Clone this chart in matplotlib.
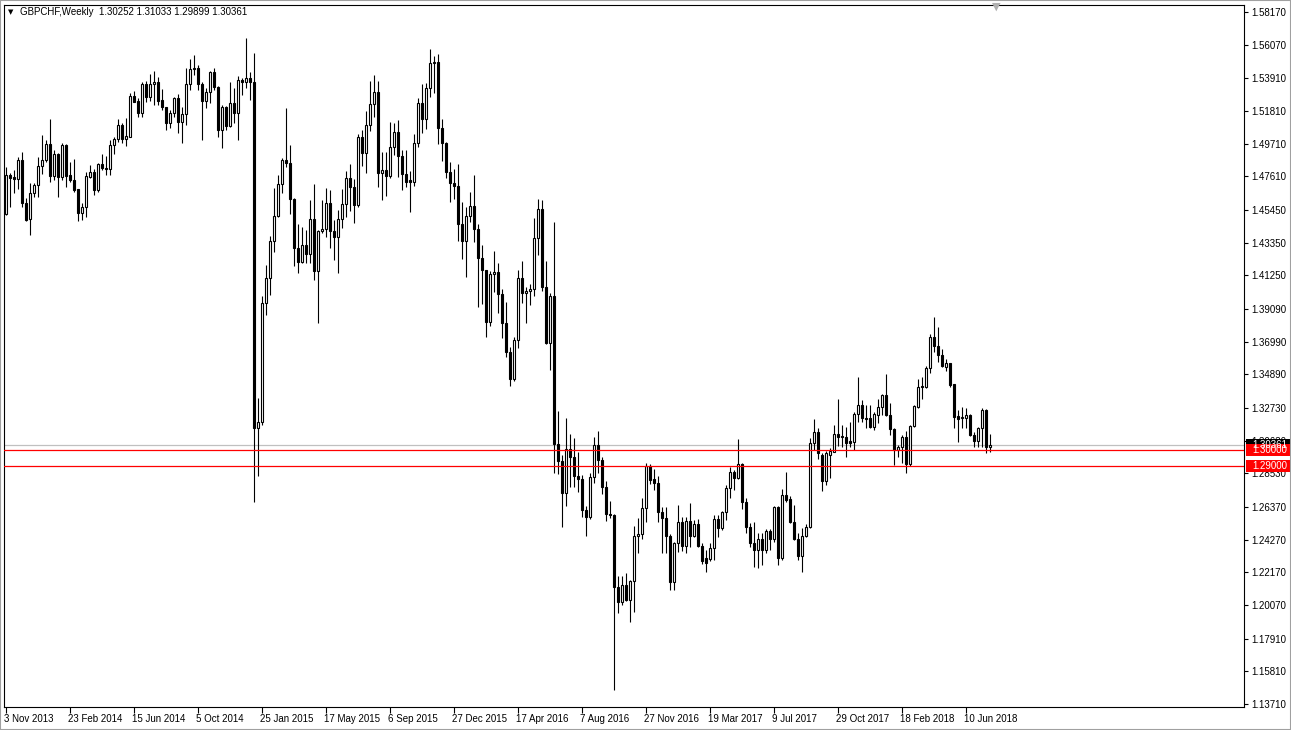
import matplotlib
matplotlib.use("Agg")
import matplotlib.pyplot as plt
import matplotlib.transforms as mtransforms
from matplotlib.patches import Rectangle
import numpy as np

# ---------------- data (weekly GBPCHF candles) ----------------
opens = [
    1.4520,1.4770,1.4759,1.4742,1.4866,1.4588,1.4485,1.4652,1.4706,1.4828,
    1.4866,1.4967,1.4766,1.4905,1.4755,1.4963,1.4770,1.4738,1.4678,1.4524,
    1.4563,1.4760,1.4789,1.4674,1.4841,1.4817,1.4806,1.4963,1.5003,1.5091,
    1.4999,1.5016,1.5277,1.5247,1.5170,1.5354,1.5273,1.5352,1.5365,1.5250,
    1.5205,1.5106,1.5166,1.5263,1.5113,1.5160,1.5353,1.5449,1.5455,1.5353,
    1.5248,1.5301,1.5430,1.5333,1.5059,1.5205,1.5085,1.5231,1.5170,1.5380,
    1.5365,1.5391,1.5365,1.3144,1.3180,1.3946,1.4107,1.4347,1.4507,1.4713,
    1.4867,1.4845,1.4614,1.4300,1.4210,1.4317,1.4263,1.4486,1.4150,1.4407,
    1.4422,1.4589,1.4407,1.4370,1.4486,1.4582,1.4749,1.4691,1.4578,1.5012,
    1.4914,1.5091,1.5224,1.5301,1.4781,1.4802,1.4766,1.4952,1.5044,1.4894,
    1.4774,1.4738,1.4727,1.4974,1.5231,1.5130,1.5327,1.5487,1.5494,1.5074,
    1.4974,1.4791,1.4716,1.4701,1.4453,1.4348,1.4507,1.4571,1.4421,1.4235,
    1.4160,1.3828,1.4134,1.4145,1.4003,1.3817,1.3631,1.3458,1.3710,1.4106,
    1.4010,1.4025,1.4038,1.4363,1.4549,1.4053,1.3693,1.3995,1.3043,1.2929,
    1.2726,1.3010,1.2957,1.2839,1.2816,1.2615,1.2572,1.2829,1.3032,1.2940,
    1.2762,1.2593,1.2584,1.2125,1.2029,1.2133,1.2041,1.2159,1.2453,1.2461,
    1.2629,1.2903,1.2815,1.2794,1.2607,1.2568,1.2453,1.2157,1.2403,1.2538,
    1.2388,1.2547,1.2453,1.2525,1.2388,1.2310,1.2300,1.2371,1.2557,1.2500,
    1.2607,1.2757,1.2859,1.2821,1.2913,1.2667,1.2506,1.2408,1.2361,1.2431,
    1.2361,1.2483,1.2429,1.2635,1.2307,1.2714,1.2688,1.2542,1.2429,1.2324,
    1.2450,1.2506,1.3046,1.3121,1.2971,1.2806,1.2971,1.2992,1.3106,1.3095,
    1.3089,1.3061,1.3057,1.3234,1.3292,1.3211,1.3206,1.3153,1.3228,1.3281,
    1.3356,1.3228,1.3136,1.3003,1.3020,1.3084,1.2913,1.3159,1.3281,1.3414,
    1.3406,1.3528,1.3727,1.3673,1.3613,1.3538,1.3560,1.3427,1.3221,1.3206,
    1.3211,1.3228,1.3099,1.3063,1.3146,1.3260,1.30252,
]
highs = [
    1.4824,1.4781,1.4802,1.4888,1.4920,1.4620,1.4717,1.4721,1.4888,1.5027,
    1.4995,1.5130,1.4931,1.4910,1.4973,1.4967,1.4856,1.4871,1.4680,1.4588,
    1.4792,1.4834,1.4807,1.4849,1.4905,1.4892,1.4995,1.5012,1.5127,1.5106,
    1.5136,1.5294,1.5309,1.5262,1.5369,1.5376,1.5420,1.5438,1.5400,1.5320,
    1.5209,1.5187,1.5273,1.5290,1.5209,1.5455,1.5513,1.5541,1.5477,1.5369,
    1.5327,1.5438,1.5459,1.5342,1.5220,1.5213,1.5369,1.5327,1.5406,1.5391,
    1.5648,1.5430,1.5552,1.3336,1.3993,1.4193,1.4375,1.4689,1.4770,1.4877,
    1.5203,1.4963,1.4620,1.4456,1.4434,1.4417,1.4610,1.4713,1.4417,1.4610,
    1.4685,1.4674,1.4481,1.4546,1.4681,1.4796,1.4841,1.4743,1.5032,1.5059,
    1.5181,1.5374,1.5412,1.5374,1.4915,1.4915,1.5108,1.5102,1.5123,1.4931,
    1.4931,1.4796,1.5034,1.5263,1.5355,1.5363,1.5579,1.5534,1.5547,1.5130,
    1.4980,1.4851,1.4806,1.4838,1.4594,1.4567,1.4659,1.4770,1.4455,1.4320,
    1.4162,1.4153,1.4282,1.4207,1.4036,1.3952,1.3667,1.3732,1.4160,1.4217,
    1.4053,1.4068,1.4491,1.4613,1.4609,1.4217,1.4010,1.4466,1.3256,1.2972,
    1.3207,1.3106,1.3078,1.2993,1.2844,1.2640,1.2854,1.3085,1.3128,1.2961,
    1.2801,1.2672,1.2590,1.2195,1.2191,1.2212,1.2169,1.2515,1.2564,1.2693,
    1.2918,1.2914,1.2879,1.2837,1.2635,1.2635,1.2461,1.2414,1.2650,1.2575,
    1.2575,1.2660,1.2553,1.2560,1.2403,1.2360,1.2403,1.2585,1.2585,1.2613,
    1.2778,1.2896,1.2874,1.3071,1.2917,1.2692,1.2536,1.2538,1.2468,1.2468,
    1.2493,1.2493,1.2643,1.2643,1.2750,1.2859,1.2707,1.2650,1.2468,1.2500,
    1.2528,1.3078,1.3200,1.3142,1.2982,1.2999,1.3014,1.3164,1.3331,1.3164,
    1.3153,1.3185,1.3249,1.3470,1.3324,1.3292,1.3292,1.3249,1.3328,1.3361,
    1.3491,1.3307,1.3142,1.3035,1.3099,1.3127,1.3166,1.3292,1.3459,1.3470,
    1.3543,1.3748,1.3855,1.3791,1.3650,1.3585,1.3564,1.3427,1.3260,1.3277,
    1.3271,1.3232,1.3121,1.3149,1.3271,1.3264,1.31033,
]
lows = [
    1.4513,1.4567,1.4652,1.4678,1.4567,1.4477,1.4385,1.4631,1.4631,1.4777,
    1.4856,1.4723,1.4738,1.4627,1.4738,1.4695,1.4727,1.4663,1.4471,1.4481,
    1.4503,1.4749,1.4642,1.4663,1.4802,1.4770,1.4770,1.4905,1.4984,1.4973,
    1.4956,1.5012,1.5236,1.5140,1.5140,1.5241,1.5245,1.5220,1.5220,1.5187,
    1.5059,1.5070,1.5145,1.5042,1.4974,1.5091,1.5316,1.5412,1.5316,1.4995,
    1.5198,1.5231,1.5316,1.5012,1.4942,1.5059,1.5081,1.5102,1.4995,1.5284,
    1.5327,1.5252,1.2669,1.2834,1.3165,1.3872,1.4000,1.4272,1.4503,1.4657,
    1.4824,1.4518,1.4186,1.4139,1.4203,1.4203,1.4203,1.4096,1.3818,1.4396,
    1.4370,1.4300,1.4225,1.4143,1.4426,1.4503,1.4541,1.4464,1.4567,1.4828,
    1.4785,1.5055,1.5145,1.4695,1.4606,1.4638,1.4753,1.4898,1.4759,1.4674,
    1.4695,1.4535,1.4702,1.4952,1.5042,1.5066,1.5273,1.5295,1.4967,1.4862,
    1.4753,1.4599,1.4614,1.4348,1.4228,1.4117,1.4470,1.4342,1.3924,1.3942,
    1.3727,1.3802,1.4017,1.3886,1.3721,1.3599,1.3411,1.3443,1.3657,1.3946,
    1.3817,1.3935,1.3993,1.4256,1.4027,1.3684,1.3518,1.2854,1.2850,1.2505,
    1.2644,1.2768,1.2763,1.2736,1.2572,1.2448,1.2559,1.2790,1.2854,1.2721,
    1.2549,1.2565,1.1461,1.1954,1.2009,1.2030,1.1896,1.1960,1.2339,1.2430,
    1.2543,1.2785,1.2747,1.2543,1.2339,1.2339,1.2103,1.2103,1.2345,1.2356,
    1.2339,1.2382,1.2446,1.2382,1.2270,1.2217,1.2292,1.2296,1.2442,1.2489,
    1.2553,1.2692,1.2746,1.2817,1.2622,1.2468,1.2382,1.2249,1.2243,1.2264,
    1.2339,1.2361,1.2414,1.2264,1.2296,1.2671,1.2532,1.2425,1.2296,1.2217,
    1.2446,1.2500,1.3003,1.2943,1.2742,1.2778,1.2821,1.2992,1.3031,1.3024,
    1.2956,1.3024,1.3003,1.3185,1.3185,1.3142,1.3142,1.3131,1.3174,1.3228,
    1.3221,1.3099,1.2907,1.2960,1.2917,1.2857,1.2900,1.3153,1.3271,1.3328,
    1.3399,1.3500,1.3635,1.3570,1.3538,1.3513,1.3410,1.3146,1.3057,1.3146,
    1.3142,1.3093,1.3020,1.3024,1.3024,1.2982,1.29899,
]
closes = [
    1.4770,1.4753,1.4742,1.4866,1.4588,1.4481,1.4652,1.4706,1.4828,1.4866,
    1.4967,1.4766,1.4905,1.4755,1.4963,1.4766,1.4738,1.4674,1.4524,1.4563,
    1.4764,1.4789,1.4674,1.4841,1.4813,1.4806,1.4963,1.5003,1.5091,1.4999,
    1.5020,1.5277,1.5241,1.5170,1.5354,1.5273,1.5352,1.5365,1.5245,1.5205,
    1.5106,1.5170,1.5263,1.5113,1.5160,1.5353,1.5449,1.5455,1.5353,1.5248,
    1.5301,1.5430,1.5333,1.5059,1.5205,1.5085,1.5231,1.5170,1.5380,1.5365,
    1.5391,1.5365,1.3144,1.3180,1.3946,1.4107,1.4347,1.4507,1.4713,1.4867,
    1.4845,1.4614,1.4300,1.4210,1.4317,1.4263,1.4486,1.4150,1.4407,1.4422,
    1.4589,1.4407,1.4370,1.4486,1.4582,1.4749,1.4691,1.4578,1.5012,1.4914,
    1.5091,1.5224,1.5301,1.4781,1.4802,1.4766,1.4952,1.5044,1.4894,1.4774,
    1.4727,1.4727,1.4974,1.5231,1.5130,1.5327,1.5487,1.5494,1.5074,1.4974,
    1.4791,1.4716,1.4701,1.4453,1.4348,1.4507,1.4571,1.4421,1.4235,1.4160,
    1.3828,1.4134,1.4145,1.4003,1.3817,1.3631,1.3458,1.3710,1.4106,1.4010,
    1.4025,1.4038,1.4363,1.4549,1.4053,1.3693,1.3995,1.3043,1.2929,1.2726,
    1.3010,1.2957,1.2839,1.2816,1.2615,1.2572,1.2829,1.3032,1.2940,1.2762,
    1.2593,1.2584,1.2125,1.2029,1.2133,1.2041,1.2159,1.2453,1.2461,1.2629,
    1.2903,1.2811,1.2794,1.2607,1.2568,1.2453,1.2157,1.2403,1.2538,1.2388,
    1.2547,1.2453,1.2525,1.2388,1.2290,1.2275,1.2371,1.2557,1.2500,1.2607,
    1.2757,1.2859,1.2821,1.2913,1.2667,1.2506,1.2403,1.2361,1.2431,1.2361,
    1.2483,1.2429,1.2635,1.2307,1.2714,1.2682,1.2542,1.2429,1.2324,1.2450,
    1.2506,1.3046,1.3121,1.2982,1.2806,1.2985,1.2999,1.3104,1.3089,1.3084,
    1.3050,1.3050,1.3234,1.3292,1.3206,1.3200,1.3153,1.3232,1.3281,1.3356,
    1.3228,1.3136,1.3003,1.3020,1.3084,1.2913,1.3159,1.3286,1.3410,1.3406,
    1.3528,1.3727,1.3673,1.3613,1.3543,1.3560,1.3421,1.3217,1.3202,1.3217,
    1.3228,1.3099,1.3063,1.3146,1.3260,1.3024,1.30361,
]

date_labels = ["3 Nov 2013", "23 Feb 2014", "15 Jun 2014", "5 Oct 2014",
               "25 Jan 2015", "17 May 2015", "6 Sep 2015", "27 Dec 2015",
               "17 Apr 2016", "7 Aug 2016", "27 Nov 2016", "19 Mar 2017",
               "9 Jul 2017", "29 Oct 2017", "18 Feb 2018", "10 Jun 2018"]
date_label_weeks = [0, 16, 32, 48, 64, 80, 96, 112, 128, 144, 160, 176,
                    192, 208, 224, 240]

price_ticks = [1.58170, 1.56070, 1.53910, 1.51810, 1.49710, 1.47610, 1.45450,
               1.43350, 1.41250, 1.39090, 1.36990, 1.34890, 1.32730, 1.30630,
               1.28530, 1.26370, 1.24270, 1.22170, 1.20070, 1.17910, 1.15810,
               1.13710]

level_lines = [1.30000, 1.29000]
symbol_title = "GBPCHF,Weekly"
last_ohlc = [1.30252, 1.31033, 1.29899, 1.30361]

# ---------------- figure ----------------
W, H = 1291, 730
fig = plt.figure(figsize=(W / 100, H / 100), dpi=100)
fig.patch.set_facecolor("white")
ax = fig.add_axes([4 / W, 23 / H, 1240 / W, 702 / H])
ax.set_facecolor("white")

o = np.array(opens); h = np.array(highs); l = np.array(lows); c = np.array(closes)
assert len(o) == len(h) == len(l) == len(c)
x = np.arange(len(o))

# wicks
ax.vlines(x, l, h, color="black", linewidth=0.8, zorder=2)
# bodies
bottoms = np.minimum(o, c)
heights = np.abs(c - o)
fills = ["white" if cc >= oo else "black" for oo, cc in zip(o, c)]
ax.bar(x, heights, bottom=bottoms, width=0.5, color=fills,
       edgecolor="black", linewidth=0.8, zorder=3)

# horizontal levels
for lv in level_lines:
    ax.axhline(lv, color="#FF0000", linewidth=0.9, zorder=4)
ax.axhline(last_ohlc[3], color="#C0C0C0", linewidth=0.9, zorder=1)

ax.set_xlim(-0.375, 309.625)
ax.set_ylim(1.13516, 1.58620)

for sp in ax.spines.values():
    sp.set_color("black")
    sp.set_linewidth(0.8)

lab_font = {"family": ["Liberation Sans", "DejaVu Sans"], "size": 7}

ax.yaxis.tick_right()
ax.set_yticks(price_ticks)
ax.set_yticklabels([f"{p:.5f}" for p in price_ticks], fontdict=lab_font)
ax.tick_params(axis="y", direction="out", length=3, width=0.8, pad=2.5,
               colors="black")

ax.set_xticks(date_label_weeks)
ax.set_xticklabels(date_labels, fontdict=lab_font, ha="left")
ax.tick_params(axis="x", direction="out", length=4, width=0.8, pad=1,
               colors="black")
offset = mtransforms.ScaledTranslation(-1.5 / 100, 0, fig.dpi_scale_trans)
for lbl in ax.get_xticklabels():
    lbl.set_transform(lbl.get_transform() + offset)

# price labels on the right axis
blend = mtransforms.blended_transform_factory(ax.transAxes, ax.transData)
box_h = 12 * (1.58620 - 1.13516) / 702
box_w = 45 / 1240


def axis_label(price, txt, face):
    ax.add_patch(Rectangle((1.0016, price - box_h / 2), box_w, box_h,
                           transform=blend, facecolor=face, edgecolor="none",
                           clip_on=False, zorder=10))
    ax.text(1.0016 + 6 / 1240, price, txt, transform=blend, color="white",
            va="center", ha="left", zorder=11, clip_on=False,
            fontfamily=lab_font["family"], fontsize=7)


axis_label(last_ohlc[3], f"{last_ohlc[3]:.5f}", "black")
for lv in level_lines:
    axis_label(lv, f"{lv:.5f}", "#FF0000")

# header
fig.text(8 / W, 1 - 12.5 / H, "\u25BC", fontsize=5, family="DejaVu Sans",
         va="center", ha="left", color="black")
fig.text(20 / W, 1 - 12 / H,
         symbol_title + "  " + " ".join(f"{v:.5f}" for v in last_ohlc),
         fontsize=7, family=["Liberation Sans", "DejaVu Sans"],
         va="center", ha="left", color="black")
# chart-shift marker
fig.text(996 / W, 1 - 7 / H, "\u25BC", fontsize=8, family="DejaVu Sans",
         va="center", ha="center", color="#B0B0B0")

# window border
fig.patches.append(Rectangle((0, 0), 1, 1, transform=fig.transFigure,
                             fill=False, edgecolor="#A0A0A0", linewidth=1.5))

fig.savefig("out.png", dpi=100, facecolor="white")
